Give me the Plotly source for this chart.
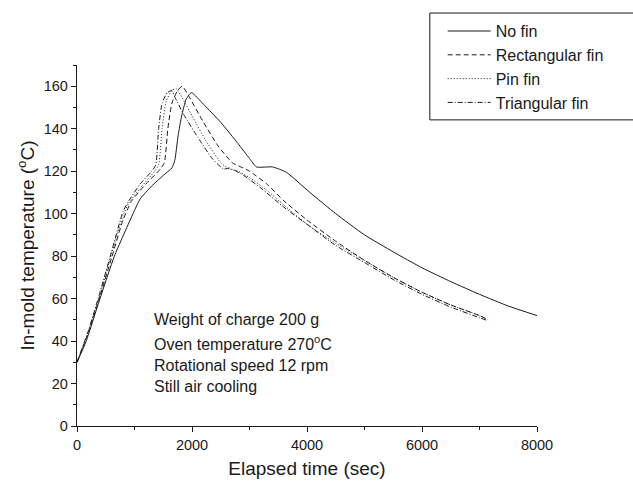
import plotly.graph_objects as go

# In-mold temperature histories for the four mold configurations
t_no_fin = [0, 160, 400, 650, 975, 1100, 1300, 1500, 1650, 1700, 1760, 1820, 1900, 1990,
            2200, 2500, 2800, 3000, 3120, 3400, 3640, 4050, 4500, 5000, 5500, 6000,
            6500, 7000, 7500, 8000]
T_no_fin = [30, 40, 60, 80, 100, 107, 113, 118, 121.5, 125, 137, 146, 154, 157,
            151.5, 143, 133, 126, 122, 122, 119.5, 110, 100, 90, 82, 74.5,
            68, 62, 56.5, 52]

t_rect = [0, 200, 400, 600, 800, 950, 1200, 1450, 1520, 1580, 1650, 1750, 1830, 1950,
          2200, 2450, 2700, 2850, 3000, 3300, 3600, 4000, 4500, 5000, 5500, 6000, 6500,
          7000, 7150]
T_rect = [30, 44, 61, 79, 97, 106, 114, 121, 124, 140, 152, 158, 160, 155,
          143, 132, 124, 122, 120, 114, 106, 97, 87, 78, 70, 63, 57,
          52, 50]

t_pin = [0, 200, 400, 600, 800, 900, 1100, 1350, 1420, 1480, 1550, 1650, 1720, 1800,
         2000, 2250, 2500, 2650, 2800, 3000, 3300, 3600, 4000, 4500, 5000, 5500, 6000,
         6500, 7000, 7150]
T_pin = [30, 45, 62, 81, 99, 105, 112, 120, 123, 140, 153, 158, 159, 156,
         146, 134, 124, 121, 120, 117, 111, 104, 95, 86, 78, 70, 63,
         57, 52, 50]

t_tri = [0, 200, 400, 600, 800, 900, 1100, 1300, 1370, 1420, 1480, 1570, 1650, 1700,
         1850, 2100, 2350, 2550, 2650, 2700, 2900, 3200, 3600, 4000, 4500, 5000, 5500,
         6000, 6500, 7000, 7150]
T_tri = [30, 45, 63, 82, 101, 106, 114, 120, 123, 140, 152, 157, 158, 155,
         147, 136, 126, 121, 121.5, 121, 118, 112, 103, 95, 85, 77, 69,
         62, 56, 51, 49.5]

series_names = ["No fin", "Rectangular fin", "Pin fin", "Triangular fin"]
series_t = [t_no_fin, t_rect, t_pin, t_tri]
series_T = [T_no_fin, T_rect, T_pin, T_tri]
dash_styles = ["solid", "5px,3px", "1px,2px", "5px,2px,1px,2px"]

conditions = [
    "Weight of charge 200 g",
    "Oven temperature 270<sup>o</sup>C",
    "Rotational speed 12 rpm",
    "Still air cooling",
]
condition_y = [50, 39, 28.5, 18.5]

x_ticks = [0, 2000, 4000, 6000, 8000]
y_ticks = [0, 20, 40, 60, 80, 100, 120, 140, 160]

FONT = "Liberation Sans, Arial, sans-serif"
INK = "#1a1a1a"

fig = go.Figure()
for name, t, T, dash in zip(series_names, series_t, series_T, dash_styles):
    fig.add_trace(go.Scatter(
        x=t, y=T, name=name, mode="lines",
        line=dict(color=INK, width=1, dash=dash, shape="spline", smoothing=0.5),
    ))

for text, y in zip(conditions, condition_y):
    fig.add_annotation(
        x=1300, y=y, xref="x", yref="y", text=text, showarrow=False,
        xanchor="left", yanchor="middle", font=dict(family=FONT, size=16, color=INK),
    )

# legend frame runs off the right edge of the page
fig.add_shape(type="rect", xref="paper", yref="paper",
              x0=0.767, x1=1.3, y0=0.848, y1=1.144,
              line=dict(color=INK, width=1))

axis_common = dict(
    showline=True, linecolor=INK, linewidth=1.3, mirror=False,
    showgrid=False, zeroline=False,
    ticks="outside", ticklen=5, tickwidth=1, tickcolor=INK,
    tickfont=dict(family=FONT, size=14.5, color=INK),
)

fig.update_layout(
    width=633, height=482,
    margin=dict(l=77, r=96, t=65, b=56, autoexpand=False),
    paper_bgcolor="white", plot_bgcolor="white",
    font=dict(family=FONT, color=INK),
    showlegend=True,
    legend=dict(
        x=0.795, y=1.141, xanchor="left", yanchor="top",
        bgcolor="rgba(0,0,0,0)", borderwidth=0,
        font=dict(family=FONT, size=16, color=INK),
        tracegroupgap=0, itemwidth=43,
    ),
    xaxis=dict(
        range=[0, 8000], tickvals=x_ticks,
        minor=dict(dtick=1000, ticks="outside", ticklen=3, tickcolor=INK),
        title=dict(text="Elapsed time (sec)", font=dict(family=FONT, size=19, color=INK), standoff=10),
        **axis_common,
    ),
    yaxis=dict(
        range=[0, 170], tickvals=y_ticks,
        minor=dict(dtick=10, ticks="outside", ticklen=3, tickcolor=INK),
        title=dict(text="In-mold temperature (<sup>o</sup>C)", font=dict(family=FONT, size=19, color=INK), standoff=4),
        **axis_common,
    ),
)

fig.write_html("out.html")
